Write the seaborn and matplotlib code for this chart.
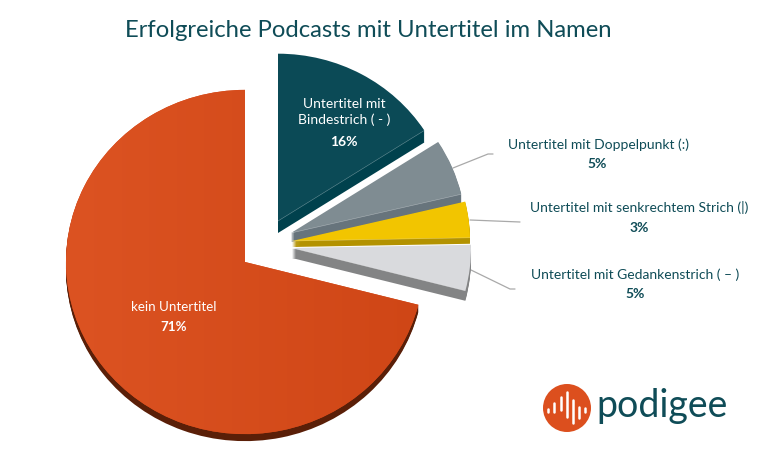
import numpy as np
import matplotlib
matplotlib.use('Agg')
import matplotlib.pyplot as plt
from matplotlib.colors import LinearSegmentedColormap
from matplotlib.patches import Wedge, Ellipse
import seaborn as sns

# Werte
kategorien = ['kein Untertitel', 'Untertitel mit Gedankenstrich ( – )',
              'Untertitel mit senkrechtem Strich (|)',
              'Untertitel mit Doppelpunkt (:)', 'Untertitel mit\nBindestrich ( - )']
werte = [71, 4.3, 3.4, 5.4, 15.9]
prozent = ['71%', '5%', '3%', '5%', '16%']

# Farben
farben = ['#d64a1a', '#d9dadd', '#f2c500', '#7f8c92', '#0b4a56']
seiten = ['#5a1f08', '#838485', '#b39200', '#67747c', '#00414d']
TEAL = '#0f4c57'

# Layout in Pixeln
mitten = [(245, 262), (292, 248), (292, 241), (291, 233), (278, 221)]
radien = [179, 179, 178, 175, 174]
tiefen = [7, 10, 6, 9, 12]
ebenen = [6, 5, 4, 3, 2]
K = 1.04  # Ellipse, Torte ist leicht gekippt

sns.set_theme(style='white')
plt.rcParams['font.family'] = ['Lato', 'DejaVu Sans']


def py(y):
    return (465 - y) * K


fig = plt.figure(figsize=(7.61, 4.65), dpi=100)
ax = fig.add_axes([0, 0, 1, 1])
wedges, _ = ax.pie(werte, colors=sns.color_palette(farben), startangle=90)

for w, c, r, s, t, z in zip(wedges, mitten, radien, seiten, tiefen, ebenen):
    w.set_center((c[0], py(c[1])))
    w.set_radius(r)
    w.set_zorder(z + 0.5)
    w.set_linewidth(0)
    # Seitenflaeche: versetzte Kopien nach unten
    for d in range(1, t + 1):
        ax.add_patch(Wedge((c[0], py(c[1] + d)), r, w.theta1, w.theta2,
                           facecolor=s, linewidth=0, zorder=z))
    # feine helle Kante
    if z < 6:
        a = np.radians(w.theta1)
        ax.plot([c[0], c[0] + r * np.cos(a)], [py(c[1]), py(c[1]) + r * np.sin(a)],
                color='white', lw=0.4, alpha=0.4, zorder=z + 0.6)

# Verlauf auf dem roten Stueck
cmap = LinearSegmentedColormap.from_list('rot', ['#dc5322', '#cf4616'])
verlauf = ax.imshow(np.linspace(0, 1, 256)[None, :], cmap=cmap, aspect='auto',
                    extent=(66, 425, py(440), py(85)), zorder=6.6)
verlauf.set_clip_path(wedges[0])

# Beschriftung
ax.text(368, py(30.5), 'Erfolgreiche Podcasts mit Untertitel im Namen', color=TEAL,
        fontsize=17.2, ha='center', va='center')

ax.text(174, py(307), kategorien[0], color='white', fontsize=9.6, ha='center', va='center', zorder=10)
ax.text(174, py(327), prozent[0], color='white', fontsize=9.6, fontweight='bold', ha='center', va='center', zorder=10)
ax.text(344, py(112), kategorien[4], color='white', fontsize=10, ha='center', va='center',
        linespacing=1.3, zorder=10)
ax.text(344, py(142), prozent[4], color='white', fontsize=10, fontweight='bold', ha='center', va='center', zorder=10)

ax.text(598, py(145), kategorien[3], color=TEAL, fontsize=10, ha='center', va='center')
ax.text(597, py(164), prozent[3], color=TEAL, fontsize=10, fontweight='bold', ha='center', va='center')
ax.text(639, py(208), kategorien[2], color=TEAL, fontsize=10, ha='center', va='center')
ax.text(639, py(228), prozent[2], color=TEAL, fontsize=10, fontweight='bold', ha='center', va='center')
ax.text(635, py(275), kategorien[1], color=TEAL, fontsize=10, ha='center', va='center')
ax.text(635, py(294), prozent[1], color=TEAL, fontsize=10, fontweight='bold', ha='center', va='center')

# Fuehrungslinien
ax.plot([453, 488, 493], [py(168), py(154), py(154)], color='#a9a9a9', lw=0.9)
ax.plot([470, 520], [py(220), py(222)], color='#a9a9a9', lw=0.9)
ax.plot([471, 510, 515], [py(270), py(289), py(289)], color='#a9a9a9', lw=0.9)

# Logo
ax.add_patch(Ellipse((567, py(408)), 48, 48 * K, facecolor='#dc4f1e', linewidth=0))
logo_x = [548, 554, 561, 567, 573, 579, 585]
logo_von = [409, 403, 397, 392, 400, 407, 408]
logo_bis = [412, 412, 410, 417, 423, 418, 412]
for x, a, b in zip(logo_x, logo_von, logo_bis):
    ax.plot([x, x], [py(a), py(b)], color='white', lw=1.8, solid_capstyle='round')
ax.text(596, py(417), 'podigee', color=TEAL, fontsize=27, ha='left', va='baseline')

ax.set_aspect('auto')
ax.set_xlim(0, 761)
ax.set_ylim(0, 465 * K)
ax.axis('off')
fig.savefig('out.png', dpi=100, facecolor='white')
